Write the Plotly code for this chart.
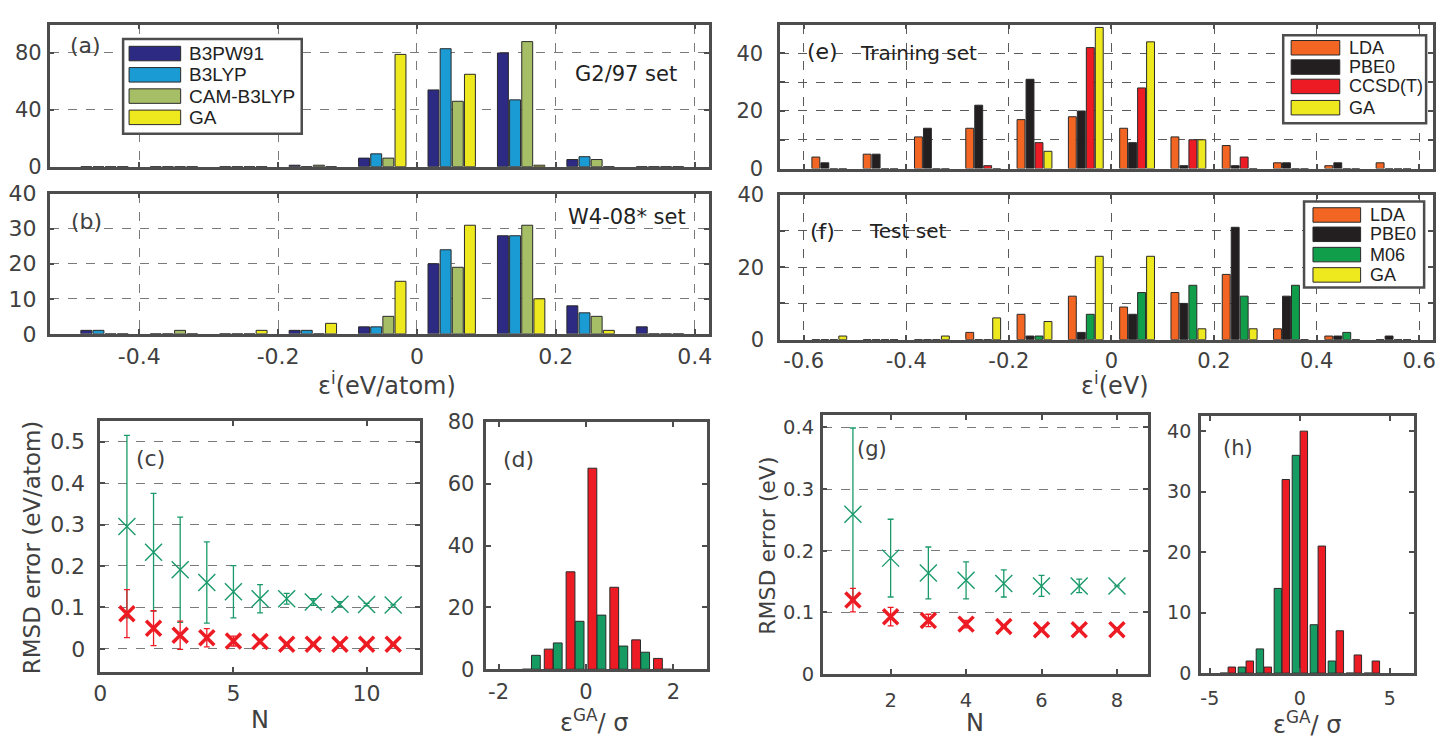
import plotly.graph_objects as go

W, H = 1445, 747

# ---------------- data ----------------
# (a) G2/97 set and (b) W4-08* set: error histograms (eV/atom)
bins_ab = [-0.45, -0.35, -0.25, -0.15, -0.05, 0.05, 0.15, 0.25, 0.35]
names_ab = ["B3PW91", "B3LYP", "CAM-B3LYP", "GA"]
colors_ab = ["#2c2a83", "#1b9bd3", "#a6bf67", "#eee81f"]
g2_b3pw91 = [0, 0, 0, 1, 6, 54, 80, 5, 0]
g2_b3lyp = [0, 0, 0, 0, 9, 83, 47, 7, 0]
g2_cam = [0, 0, 0, 1, 6, 46, 88, 5, 0]
g2_ga = [0, 0, 0, 0, 79, 65, 1, 0, 0]
w4_b3pw91 = [1, 0, 0, 1, 2, 20, 28, 8, 2]
w4_b3lyp = [1, 0, 0, 1, 2, 24, 28, 6, 0]
w4_cam = [0, 1, 0, 0, 5, 19, 31, 5, 0]
w4_ga = [0, 0, 1, 3, 15, 31, 10, 1, 0]

# (e) training set and (f) test set: error histograms (eV)
bins_ef = [-0.55, -0.45, -0.35, -0.25, -0.15, -0.05, 0.05, 0.15, 0.25, 0.35, 0.45, 0.55]
names_e = ["LDA", "PBE0", "CCSD(T)", "GA"]
colors_e = ["#f26522", "#231f20", "#ed1c24", "#eee81f"]
tr_lda = [4, 5, 11, 14, 17, 18, 14, 11, 8, 2, 1, 2]
tr_pbe0 = [2, 5, 14, 22, 31, 20, 9, 1, 1, 2, 2, 0]
tr_ccsd = [0, 0, 0, 1, 9, 42, 28, 10, 4, 0, 0, 0]
tr_ga = [0, 0, 0, 0, 6, 49, 44, 10, 0, 0, 0, 0]
names_f = ["LDA", "PBE0", "M06", "GA"]
colors_f = ["#f26522", "#231f20", "#109e4a", "#eee81f"]
te_lda = [0, 0, 0, 2, 7, 12, 9, 13, 18, 3, 1, 0]
te_pbe0 = [0, 0, 0, 0, 1, 2, 7, 10, 31, 12, 1, 1]
te_m06 = [0, 0, 0, 0, 1, 7, 13, 15, 12, 15, 2, 0]
te_ga = [1, 0, 1, 6, 5, 23, 23, 3, 3, 0, 0, 0]

# (c) RMSD error vs N (eV/atom)
n_c = [1, 2, 3, 4, 5, 6, 7, 8, 9, 10, 11]
c_upper = [0.295, 0.233, 0.191, 0.160, 0.138, 0.121, 0.121, 0.113, 0.108, 0.107, 0.106]
c_upper_err = [0.22, 0.142, 0.127, 0.098, 0.063, 0.034, 0.013, 0.008, 0.006, 0.003, 0.0]
c_lower = [0.085, 0.050, 0.033, 0.027, 0.019, 0.018, 0.011, 0.011, 0.011, 0.011, 0.011]
c_lower_err = [0.058, 0.042, 0.034, 0.022, 0.012, 0.005, 0.0, 0.0, 0.0, 0.0, 0.0]

# (d) normalised GA error histogram
bins_d = [-1.25, -0.75, -0.25, 0.25, 0.75, 1.25, 1.75]
d_red = [0, 6.5, 31.5, 65, 26.5, 9.5, 3.5]
d_green = [4.5, 8.5, 15.5, 17.5, 7.5, 5.5, 0]

# (g) RMSD error vs N (eV)
n_g = [1, 2, 3, 4, 5, 6, 7, 8]
g_upper = [0.259, 0.188, 0.164, 0.152, 0.147, 0.143, 0.143, 0.143]
g_upper_err = [0.14, 0.063, 0.042, 0.030, 0.022, 0.017, 0.011, 0.0]
g_lower = [0.120, 0.093, 0.087, 0.081, 0.077, 0.072, 0.072, 0.072]
g_lower_err = [0.019, 0.015, 0.010, 0.006, 0.0, 0.0, 0.0, 0.0]

# (h) normalised GA error histogram
bins_h = [-4, -3, -2, -1, 0, 1, 2, 3, 4]
h_green = [0, 1, 4, 14, 36, 8, 2, 0, 0]
h_red = [1, 2, 1, 32, 40, 21, 7, 3, 2]

RED = "#ed1c24"
GREEN = "#169b63"
MARKER_GREEN = "#1a9a6a"

FONT = "DejaVu Sans"
LEG_FONT = "Liberation Sans"
AXC = "#4d4d4d"
TXT = "#404040"


def px(x):
    return x / W


def py(y):
    return 1 - y / H


def group_geom(n, bin_w, gap, groupgap):
    span = bin_w * (1 - gap)
    slot = span / n
    width = slot * (1 - groupgap)
    offs = [-span / 2 + i * slot + slot * groupgap / 2 for i in range(n)]
    return width, offs


fig = go.Figure()


def add_bars(xs, series, colors, names, ax, bin_w, gap, groupgap):
    width, offs = group_geom(len(series), bin_w, gap, groupgap)
    for vals, col, name, off in zip(series, colors, names, offs):
        fig.add_trace(go.Bar(
            x=xs, y=vals, width=width, offset=off, name=name,
            marker=dict(color=col, line=dict(color="#2a2a2a", width=1)),
            xaxis="x" + ax, yaxis="y" + ax, showlegend=False))


add_bars(bins_ab, [g2_b3pw91, g2_b3lyp, g2_cam, g2_ga], colors_ab, names_ab, "", 0.1, 0.3, 0.1)
add_bars(bins_ab, [w4_b3pw91, w4_b3lyp, w4_cam, w4_ga], colors_ab, names_ab, "2", 0.1, 0.3, 0.1)
add_bars(bins_ef, [tr_lda, tr_pbe0, tr_ccsd, tr_ga], colors_e, names_e, "5", 0.1, 0.3, 0.12)
add_bars(bins_ef, [te_lda, te_pbe0, te_m06, te_ga], colors_f, names_f, "6", 0.1, 0.3, 0.12)
add_bars(bins_d, [d_red, d_green], [RED, GREEN], ["red", "green"], "4", 0.5, 0.17, 0.03)
add_bars(bins_h, [h_green, h_red], [GREEN, RED], ["green", "red"], "8", 1.0, 0.12, 0.06)


def add_points(xs, ys, errs, color, size, lw, ax):
    fig.add_trace(go.Scatter(
        x=xs, y=ys, mode="markers",
        marker=dict(symbol="x-thin", size=size, color=color,
                    line=dict(color=color, width=lw)),
        error_y=dict(type="data", array=errs, visible=True, color=color,
                     thickness=1.3, width=3),
        xaxis="x" + ax, yaxis="y" + ax, showlegend=False))


add_points(n_c, c_upper, c_upper_err, MARKER_GREEN, 17, 1.4, "3")
add_points(n_c, c_lower, c_lower_err, RED, 15, 3.5, "3")
add_points(n_g, g_upper, g_upper_err, MARKER_GREEN, 17, 1.4, "7")
add_points(n_g, g_lower, g_lower_err, RED, 15, 3.5, "7")


def axis(dom, rng, anchor, tickvals, ticktext=None, grid=False, size=21,
         labels=True, standoff=0, gridcolor="#7a7a7a", minor_vals=None):
    d = dict(domain=dom, range=rng, anchor=anchor, showline=True, linecolor=AXC,
             linewidth=2.5, mirror="ticks", ticks="inside", ticklen=5, tickwidth=2,
             tickcolor=AXC, zeroline=False, tickvals=tickvals,
             ticktext=ticktext if ticktext is not None else ["%g" % v for v in tickvals],
             showticklabels=labels,
             tickfont=dict(family=FONT, size=size, color=TXT),
             showgrid=grid, gridcolor=gridcolor, gridwidth=1.1, griddash="dash",
             ticklabelstandoff=standoff, fixedrange=True)
    if minor_vals is not None:
        d["minor"] = dict(tickvals=minor_vals, ticks="inside", ticklen=5, tickwidth=2,
                          tickcolor=AXC, showgrid=True, gridcolor=gridcolor,
                          gridwidth=1.1, griddash="dash")
    return d


xt_ab = [-0.4, -0.2, 0, 0.2, 0.4]
xt_ab_txt = ["-0.4", "-0.2", "0", "0.2", "0.4"]
xt_ef = [-0.6, -0.4, -0.2, 0, 0.2, 0.4, 0.6]
xt_ef_txt = ["-0.6", "-0.4", "-0.2", "0", "0.2", "0.4", "0.6"]
GRID_EF = "#5a5a5a"

layout = dict(
    width=W, height=H, margin=dict(l=0, r=0, t=0, b=0), autosize=False,
    paper_bgcolor="white", plot_bgcolor="white", barmode="overlay",
    font=dict(family=FONT, color=TXT),
    # (a)
    xaxis=axis([px(43), px(707)], [-0.529, 0.42], "y", xt_ab, xt_ab_txt, grid=True,
               labels=False),
    yaxis=axis([py(160), py(13)], [0, 100], "x", [0, 40, 80], grid=True, size=21,
               standoff=1),
    # (b)
    xaxis2=axis([px(43), px(707)], [-0.529, 0.42], "y2", xt_ab, xt_ab_txt, grid=True,
                size=22, standoff=1),
    yaxis2=axis([py(333), py(188)], [0, 40], "x2", [0, 10, 20, 30, 40], grid=True,
                size=22, standoff=6),
    # (c)
    xaxis3=axis([px(94), px(416)], [0, 12], "y3", [0, 5, 10], size=22, standoff=0),
    yaxis3=axis([py(683), py(423)], [-0.056, 0.55], "x3", [0, 0.1, 0.2, 0.3, 0.4, 0.5],
                grid=True, size=22, standoff=8),
    # (d)
    xaxis4=axis([px(483), px(705)], [-2.28, 2.76], "y4", [-2, 0, 2], ["-2", "0", "2"],
                size=21, standoff=2),
    yaxis4=axis([py(680), py(424)], [0, 80], "x4", [0, 20, 40, 60, 80], size=21,
                standoff=5),
    # (e)
    xaxis5=axis([px(779), px(1437)], [-0.646, 0.627], "y5", xt_ef, xt_ef_txt, grid=True,
                labels=False, gridcolor=GRID_EF),
    yaxis5=axis([py(162), py(13)], [0, 50], "x5", [0, 20, 40], grid=True, size=21,
                standoff=10, gridcolor=GRID_EF, minor_vals=[10, 30]),
    # (f)
    xaxis6=axis([px(779), px(1437)], [-0.646, 0.627], "y6", xt_ef, xt_ef_txt, grid=True,
                size=21, standoff=0, gridcolor=GRID_EF),
    yaxis6=axis([py(339), py(189)], [0, 40], "x6", [0, 20, 40], grid=True, size=21,
                standoff=9, gridcolor=GRID_EF, minor_vals=[10, 30]),
    # (g)
    xaxis7=axis([px(822), px(1150)], [0.2, 8.83], "y7", [2, 4, 6, 8], size=19.5,
                standoff=7),
    yaxis7=axis([py(685), py(417)], [0, 0.42], "x7", [0, 0.1, 0.2, 0.3, 0.4],
                grid=True, size=19.5, standoff=2),
    # (h)
    xaxis8=axis([px(1203), px(1418)], [-5.5, 6.35], "y8", [-5, 0, 5], ["-5", "0", "5"],
                size=19, standoff=6),
    yaxis8=axis([py(684), py(418)], [0, 42.5], "x8", [0, 10, 20, 30, 40], size=19,
                standoff=3),
)

annotations = []
shapes = []


def text(x, y, s, size, color=TXT, anchor="center", angle=0, family=FONT):
    annotations.append(dict(x=px(x), y=py(y), xref="paper", yref="paper", text=s,
                            showarrow=False, xanchor=anchor, yanchor="middle",
                            textangle=angle,
                            font=dict(family=family, size=size, color=color)))


# panel labels and set names
text(79, 35, "(a)", 22)
text(624, 64, "G2/97 set", 21, "#222")
text(80, 217, "(b)", 22)
text(625, 212, "W4-08* set", 21, "#222")
text(822, 41, "(e)", 22, "#222")
text(918, 42, "Training set", 20, "#222")
text(822, 227, "(f)", 22, "#222")
text(907, 227, "Test set", 20, "#222")
text(145, 462, "(c)", 22)
text(515, 463, "(d)", 22)
text(872, 452, "(g)", 21)
text(1240, 451, "(h)", 21)

# axis titles
text(383, 385, "ε<sup>i</sup>(eV/atom)", 24)
text(1117, 385, "ε<sup>i</sup>(eV)", 24)
text(255, 732, "N", 24)
text(26, 554, "RMSD error (eV/atom)", 23, angle=-90)
text(592, 734, "ε<sup>GA</sup>/ σ", 24)
text(975, 736, "N", 24)
text(766, 552, "RMSD error (eV)", 22, angle=-90)
text(1310, 736, "ε<sup>GA</sup>/ σ", 24)


def legend_box(box, sw_x, txt_x, rows, names, colors, size):
    l, t, r, b = box
    shapes.append(dict(type="rect", xref="paper", yref="paper",
                       x0=px(l), x1=px(r), y0=py(b), y1=py(t),
                       fillcolor="white", line=dict(color=AXC, width=2.5)))
    for yy, name, col in zip(rows, names, colors):
        shapes.append(dict(type="rect", xref="paper", yref="paper",
                           x0=px(sw_x[0]), x1=px(sw_x[1]), y0=py(yy + 7.5), y1=py(yy - 7.5),
                           fillcolor=col, line=dict(color="#2a2a2a", width=1)))
        text(txt_x, yy, name, size, "#222", anchor="left", family=LEG_FONT)


legend_box((117, 28, 297, 126), (123, 175), 181, [43, 65, 87, 109],
           names_ab, colors_ab, 19)
legend_box((1286, 24, 1430, 115), (1294, 1343), 1350, [37, 57, 77, 99],
           names_e, colors_e, 18)
legend_box((1307, 196, 1428, 285), (1316, 1364), 1371, [210, 230, 251, 272],
           names_f, colors_f, 18)

layout["annotations"] = annotations
layout["shapes"] = shapes
fig.update_layout(**layout)
fig.write_html("out.html")
